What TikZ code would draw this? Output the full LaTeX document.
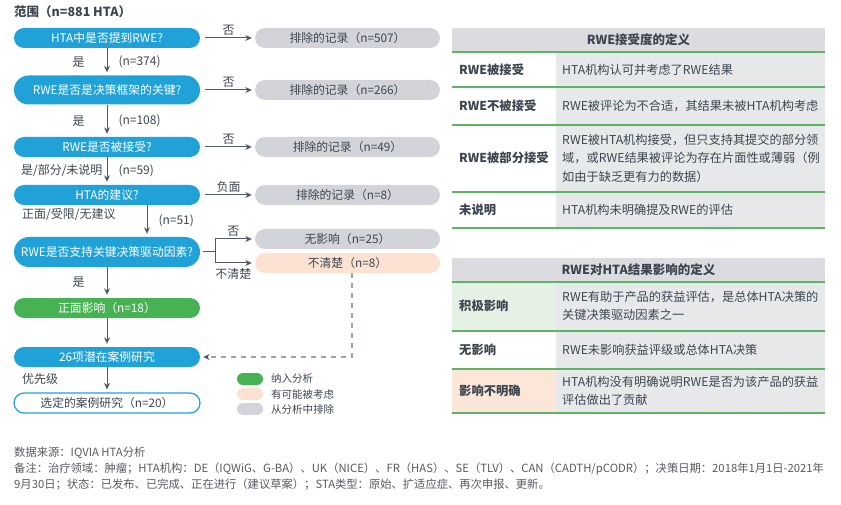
\documentclass[tikz,border=0pt]{standalone}
\usepackage{fontspec}
\setmainfont{Noto Sans CJK SC}
\usetikzlibrary{shapes.misc,arrows.meta}
\definecolor{hblue}{HTML}{20A2D8}
\definecolor{hgreen}{HTML}{46B254}
\definecolor{hgray}{HTML}{D3D4D9}
\definecolor{hpeach}{HTML}{FBE2D2}
\definecolor{harrow}{HTML}{4F5B66}
\definecolor{hdash}{HTML}{9AA2AA}
\definecolor{htext}{HTML}{3C4650}
\definecolor{hrule}{HTML}{5DB564}
\definecolor{hcell}{HTML}{E7E8EA}
\definecolor{hhead}{HTML}{DCDCE0}
\definecolor{hlgreen}{HTML}{E5F1E4}
\definecolor{hlpeach}{HTML}{FCE6D8}
\definecolor{hnote}{HTML}{555B61}
\begin{document}
\begin{tikzpicture}[x=1pt,y=-1pt]
	\tikzstyle{qbox} = [rounded rectangle,fill=hblue,text=white,minimum width=186pt,minimum height=20pt,inner sep=0pt,font=\fontsize{11.8}{13}\selectfont]
	\tikzstyle{outbox} = [rounded rectangle,fill=hgray,text=htext,minimum width=185pt,minimum height=20pt,inner sep=0pt,font=\fontsize{11.8}{13}\selectfont]
	\tikzstyle{legbox} = [rounded rectangle,minimum width=26pt,minimum height=12pt,inner sep=0pt]
	\tikzstyle{lbl} = [text=htext,inner sep=1pt,font=\fontsize{12}{14}\selectfont]
	\tikzstyle{flow} = [harrow,line width=1pt,-{Stealth[length=6.5pt,width=6pt]}]
	\tikzstyle{rowhead} = [anchor=west,text=htext,inner sep=0pt,font=\fontsize{12.3}{14}\selectfont\bfseries]
	\tikzstyle{rowtext} = [anchor=west,text=htext,inner sep=0pt,align=left,font=\fontsize{12.2}{18.5}\selectfont]
	\tikzstyle{grule} = [hrule,line width=1.5pt]
	\useasboundingbox (0,0) rectangle (841,505);
	% flow chart
	\node[anchor=west,text=htext,inner sep=0pt,font=\fontsize{12.5}{14}\selectfont\bfseries] (title) at (14,12) {范围（n=881 HTA）};
	\node[qbox] (q1) at (107,38) {HTA中是否提到RWE?};
	\node[qbox,minimum height=29pt] (q2) at (107,90) {RWE是否是决策框架的关键?};
	\node[qbox] (q3) at (107,147) {RWE是否被接受?};
	\node[qbox] (q4) at (107,195) {HTA的建议?};
	\node[qbox,minimum height=30pt] (q5) at (107,252) {RWE是否支持关键决策驱动因素?};
	\node[qbox,fill=hgreen] (pos) at (107,308) {正面影响（n=18）};
	\node[qbox] (pot) at (107,357) {26项潜在案例研究};
	\node[qbox,fill=white,draw=hblue,line width=1.2pt,text=htext] (sel) at (107,403) {选定的案例研究（n=20）};
	\node[outbox] (x1) at (347.5,38) {排除的记录（n=507）};
	\node[outbox] (x2) at (347.5,90) {排除的记录（n=266）};
	\node[outbox] (x3) at (347.5,147) {排除的记录（n=49）};
	\node[outbox] (x4) at (347.5,195) {排除的记录（n=8）};
	\node[outbox] (nx) at (347.5,239) {无影响（n=25）};
	\node[outbox,fill=hpeach] (unc) at (347.5,263) {不清楚（n=8）};
	\draw[flow] ([xshift=5pt]q1.east) -- ([xshift=-3pt]x1.west) node[lbl,midway,above=1pt] {否};
	\draw[flow] ([xshift=5pt]q2.east) -- ([xshift=-3pt]x2.west) node[lbl,midway,above=1pt] {否};
	\draw[flow] ([xshift=5pt]q3.east) -- ([xshift=-3pt]x3.west) node[lbl,midway,above=1pt] {否};
	\draw[flow] ([xshift=5pt]q4.east) -- ([xshift=-3pt]x4.west) node[lbl,midway,above=1pt] {负面};
	\draw[flow,shorten >=3pt] (q1.south) -- (q2.north) node[lbl,midway,left=21pt] {是} node[lbl,midway,right=10pt] {(n=374)};
	\draw[flow,shorten >=3pt] (q2.south) -- (q3.north) node[lbl,midway,left=21pt] {是} node[lbl,midway,right=10pt] {(n=108)};
	\draw[flow,shorten >=3pt] (q3.south) -- (q4.north) node[lbl,midway,left=3pt] {是/部分/未说明} node[lbl,midway,right=10pt] {(n=59)};
	\draw[flow,shorten >=3pt] ([xshift=40pt]q4.south) -- ([xshift=40pt]q5.north) node[lbl,midway,right=10pt] {(n=51)};
	\node[lbl,anchor=west] (l4) at (21,215) {正面/受限/无建议};
	\coordinate (br) at (215,252);
	\draw[harrow,line width=1pt] ([xshift=3pt]q5.east) -- (br);
	\draw[flow] (br) |- ([xshift=-3pt]nx.west) node[lbl,pos=0.75,above=1pt] {否};
	\draw[flow] (br) |- ([xshift=-3pt]unc.west) node[lbl,pos=0.75,below=4pt] {不清楚};
	\draw[flow,shorten >=3pt] (q5.south) -- (pos.north) node[lbl,midway,left=21pt] {是};
	\draw[flow,shorten >=3pt] (pos.south) -- (pot.north);
	\draw[flow,shorten >=3pt] (pot.south) -- (sel.north);
	\node[lbl,anchor=west] (l7) at (21,379) {优先级};
	\draw[hdash,line width=1.2pt,dash pattern=on 5pt off 5pt,-{Stealth[length=6.5pt,width=6pt,harrow]}] ([xshift=4.5pt]unc.south) |- ([xshift=3pt]pot.east);
	% legend
	\node[legbox,fill=hgreen] (lg1) at (250,379) {};
	\node[legbox,fill=hpeach] (lg2) at (250,394) {};
	\node[legbox,fill=hgray] (lg3) at (250,409) {};
	\node[lbl,anchor=west,font=\fontsize{10.5}{12}\selectfont] (lt1) at (270,379) {纳入分析};
	\node[lbl,anchor=west,font=\fontsize{10.5}{12}\selectfont] (lt2) at (270,394) {有可能被考虑};
	\node[lbl,anchor=west,font=\fontsize{10.5}{12}\selectfont] (lt3) at (270,409) {从分析中排除};
	% table of acceptance
	\fill[hhead] (452,28) rectangle (825,52);
	\fill[hcell] (556,52) rectangle (825,228);
	\foreach \y in {52,87,125,192,228}
		\draw[grule] (452,\y) -- (825,\y);
	\node[text=htext,font=\fontsize{12.5}{14}\selectfont\bfseries] (h1) at (638.5,40) {RWE接受度的定义};
	\node[rowhead] (a1) at (459,70) {RWE被接受};
	\node[rowhead] (a2) at (459,106) {RWE不被接受};
	\node[rowhead] (a3) at (459,158) {RWE被部分接受};
	\node[rowhead] (a4) at (459,210) {未说明};
	\node[rowtext] (d1) at (562,70) {HTA机构认可并考虑了RWE结果};
	\node[rowtext] (d2) at (562,106) {RWE被评论为不合适，其结果未被HTA机构考虑};
	\node[rowtext] (d3) at (562,158) {RWE被HTA机构接受，但只支持其提交的部分领\\域，或RWE结果被评论为存在片面性或薄弱（例\\如由于缺乏更有力的数据）};
	\node[rowtext] (d4) at (562,210) {HTA机构未明确提及RWE的评估};
	% table of impact
	\fill[hhead] (452,258) rectangle (825,282);
	\fill[hcell] (556,282) rectangle (825,413);
	\fill[hlgreen] (452,282) rectangle (556,331);
	\fill[hlpeach] (452,369) rectangle (556,413);
	\foreach \y in {282,331,369,413}
		\draw[grule] (452,\y) -- (825,\y);
	\node[text=htext,font=\fontsize{12.5}{14}\selectfont\bfseries] (h2) at (638.5,270) {RWE对HTA结果影响的定义};
	\node[rowhead] (b1) at (459,306) {积极影响};
	\node[rowhead] (b2) at (459,350) {无影响};
	\node[rowhead] (b3) at (459,391) {影响不明确};
	\node[rowtext] (e1) at (562,306) {RWE有助于产品的获益评估，是总体HTA决策的\\关键决策驱动因素之一};
	\node[rowtext] (e2) at (562,350) {RWE未影响获益评级或总体HTA决策};
	\node[rowtext] (e3) at (562,391) {HTA机构没有明确说明RWE是否为该产品的获益\\评估做出了贡献};
	% notes
	\node[anchor=north west,inner sep=0pt,text=hnote,align=left,font=\fontsize{11.3}{16}\selectfont] (note) at (14,447) {数据来源：IQVIA HTA分析\\备注：治疗领域：肿瘤；HTA机构：DE（IQWiG、G-BA）、UK（NICE）、FR（HAS）、SE（TLV）、CAN（CADTH/pCODR）；决策日期：2018年1月1日-2021年\\9月30日；状态：已发布、已完成、正在进行（建议草案）；STA类型：原始、扩适应症、再次申报、更新。};
\end{tikzpicture}
\end{document}
